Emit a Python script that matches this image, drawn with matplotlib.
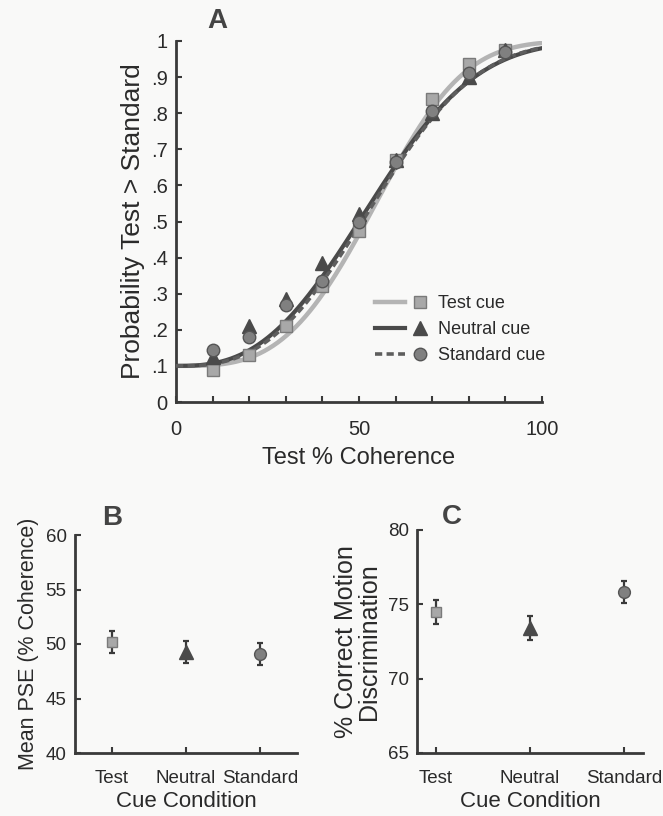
import numpy as np
import matplotlib
matplotlib.use("Agg")
import matplotlib.pyplot as plt
from matplotlib.legend_handler import HandlerTuple

plt.rcParams['font.family'] = ['Liberation Sans', 'DejaVu Sans']

# ---------------- data ----------------
coherence = [10, 20, 30, 40, 50, 60, 70, 80, 90]
p_test = [0.09, 0.13, 0.21, 0.32, 0.475, 0.67, 0.84, 0.935, 0.975]
p_neutral = [0.125, 0.21, 0.285, 0.385, 0.52, 0.67, 0.80, 0.90, 0.975]
p_standard = [0.145, 0.18, 0.27, 0.335, 0.50, 0.665, 0.805, 0.91, 0.97]

# Weibull fit parameters (scale, shape)
fit_test = (61.0, 3.3)
fit_neutral = (60.9, 2.7)
fit_standard = (61.5, 2.8)
floor = 0.1

conditions = ['Test', 'Neutral', 'Standard']
pse_mean = [50.2, 49.3, 49.1]
pse_err = [1.0, 1.0, 1.0]
correct_mean = [74.5, 73.4, 75.85]
correct_err = [0.8, 0.8, 0.75]

# ---------------- style ----------------
BG = '#f9f9f8'
AX = '#3a3a3a'
TXT = '#2a2a2a'
c_test_line = '#b4b4b4'
c_test_face = '#a8a8a8'
c_neu = '#4a4a4a'
c_std_line = '#5e5e5e'
c_std_face = '#808080'

fig = plt.figure(figsize=(6.63, 8.16), dpi=100, facecolor=BG)
W, H = 663, 816

def add_ax(l, r, t, b):
    return fig.add_axes([l / W, 1 - b / H, (r - l) / W, (b - t) / H])

def style(ax):
    ax.set_facecolor('none')
    for s in ['top', 'right']:
        ax.spines[s].set_visible(False)
    for s in ['left', 'bottom']:
        ax.spines[s].set_color(AX)
        ax.spines[s].set_linewidth(2)
    ax.tick_params(direction='in', color=AX, width=1.5, length=4,
                   labelsize=13, labelcolor=TXT, pad=6)

def weibull(x, a, b):
    return 1 - (1 - floor) * np.exp(-(x / a) ** b)

# ---------------- panel A ----------------
axA = add_ax(176, 542, 41, 402)
style(axA)
xs = np.linspace(0, 100, 400)
lt, = axA.plot(xs, weibull(xs, *fit_test), color=c_test_line, lw=3.2, zorder=2)
ln, = axA.plot(xs, weibull(xs, *fit_neutral), color=c_neu, lw=3.0, zorder=3)
ls, = axA.plot(xs, weibull(xs, *fit_standard), color=c_std_line, lw=2.6,
               ls=(0, (2, 1.2)), zorder=4)
mt, = axA.plot(coherence, p_test, 's', ms=8, mfc=c_test_face, mec='#7a7a7a',
               mew=1.0, ls='none', zorder=5)
mn, = axA.plot(coherence, p_neutral, '^', ms=9.5, mfc=c_neu, mec=c_neu,
               ls='none', zorder=6)
ms_, = axA.plot(coherence, p_standard, 'o', ms=9, mfc=c_std_face, mec='#555555',
                mew=1.0, ls='none', zorder=7)
axA.set_xlim(0, 100)
axA.set_ylim(0, 1)
axA.set_xticks(np.arange(0, 101, 10))
axA.set_xticklabels(['0', '', '', '', '', '50', '', '', '', '', '100'])
axA.set_yticks(np.arange(0, 1.01, 0.1))
axA.set_yticklabels(['0', '.1', '.2', '.3', '.4', '.5', '.6', '.7', '.8', '.9', '1'])
axA.tick_params(labelsize=14.5)
axA.tick_params(axis='x', pad=13)
axA.set_xlabel('Test % Coherence', fontsize=17, color=TXT, labelpad=6)
axA.set_ylabel('Probability Test > Standard', fontsize=19, color=TXT,
               labelpad=4)
leg = axA.legend([(lt, mt), (ln, mn), (ls, ms_)],
                 ['Test cue', 'Neutral cue', 'Standard cue'],
                 handler_map={tuple: HandlerTuple(ndivide=None, pad=0.0)},
                 loc='center left', bbox_to_anchor=(0.50, 0.20), frameon=False,
                 fontsize=13, handlelength=3.3, handletextpad=0.15,
                 labelspacing=0.5, labelcolor=TXT)
fig.text(217 / W, 1 - 21 / H, 'A', fontsize=20, fontweight='bold',
         color='#444444', ha='center', va='center')

# ---------------- panel B ----------------
axB = add_ax(75, 297, 535, 753)
style(axB)
xB = [1, 2, 3]
eb = dict(ecolor=AX, elinewidth=1.6, capsize=2.5, capthick=1.6)
axB.errorbar(xB[0], pse_mean[0], yerr=pse_err[0], fmt='s', ms=7, mfc=c_test_face,
             mec='#7a7a7a', **eb)
axB.errorbar(xB[1], pse_mean[1], yerr=pse_err[1], fmt='^', ms=9.5, mfc=c_neu,
             mec=c_neu, **eb)
axB.errorbar(xB[2], pse_mean[2], yerr=pse_err[2], fmt='o', ms=8.5, mfc=c_std_face,
             mec='#555555', **eb)
axB.set_xlim(0.5, 3.5)
axB.set_ylim(40, 60)
axB.set_yticks([40, 45, 50, 55, 60])
axB.set_xticks(xB)
axB.set_xticklabels(conditions)
axB.tick_params(labelsize=13.5)
axB.tick_params(axis='x', pad=12)
axB.set_xlabel('Cue Condition', fontsize=16, color=TXT, labelpad=3)
axB.set_ylabel('Mean PSE (% Coherence)', fontsize=15.5, color=TXT, labelpad=5)
fig.text(112 / W, 1 - 518 / H, 'B', fontsize=20, fontweight='bold',
         color='#444444', ha='center', va='center')

# ---------------- panel C ----------------
axC = add_ax(417, 643, 530, 753)
style(axC)
axC.errorbar(xB[0], correct_mean[0], yerr=correct_err[0], fmt='s', ms=7,
             mfc=c_test_face, mec='#7a7a7a', **eb)
axC.errorbar(xB[1], correct_mean[1], yerr=correct_err[1], fmt='^', ms=10.5,
             mfc=c_neu, mec=c_neu, **eb)
axC.errorbar(xB[2], correct_mean[2], yerr=correct_err[2], fmt='o', ms=8.5,
             mfc=c_std_face, mec='#555555', **eb)
axC.set_xlim(0.8, 3.2)
axC.set_ylim(65, 80)
axC.set_yticks([65, 70, 75, 80])
axC.set_xticks(xB)
axC.set_xticklabels(conditions)
axC.tick_params(labelsize=13.5)
axC.tick_params(axis='x', pad=12)
axC.set_xlabel('Cue Condition', fontsize=16, color=TXT, labelpad=3)
axC.set_ylabel('% Correct Motion\nDiscrimination', fontsize=18,
               color=TXT, labelpad=5, linespacing=0.95)
fig.text(452 / W, 1 - 517 / H, 'C', fontsize=20, fontweight='bold',
         color='#444444', ha='center', va='center')

fig.savefig('out.png', dpi=100, facecolor=BG)
